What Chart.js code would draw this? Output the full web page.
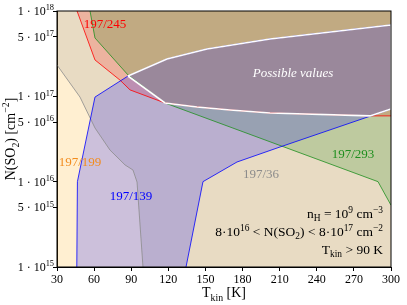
<!DOCTYPE html>
<html>
<head>
<meta charset="utf-8">
<script src="https://cdn.jsdelivr.net/npm/chart.js@4"></script>
<style>
  body { margin: 0; background: #fff; }
  canvas { display: block; }
</style>
</head>
<body>
<canvas id="chart" width="407" height="305"></canvas>
<script>
  // ejes
  const tempTicks = [30, 60, 90, 120, 150, 180, 210, 240, 270, 300];
  const nTicks = [1e15, 5e15, 1e16, 5e16, 1e17, 5e17, 1e18];

  // limite 197/36 (gris)
  const grayT = [30, 48.6, 60.7, 72.8, 85, 91.4, 94.7, 99.5];
  const grayN = [2.33e17, 9.8e16, 4.26e16, 2.35e16, 1.57e16, 1.37e16, 9.9e15, 1e15];

  // limite 197/245 (rojo)
  const redT = [46.2, 60.7, 80.9, 89, 117.3, 143.2, 169.9, 202.2, 283, 300];
  const redN = [1e18, 2.67e17, 1.55e17, 1.19e17, 8.36e16, 7.5e16, 6.92e16, 6.38e16, 5.9e16, 5.9e16];

  // limite 197/293 (verde)
  const greenT = [56.7, 60.7, 87.4, 117.3, 289.5, 300];
  const greenN = [1e18, 4.83e17, 1.78e17, 8.36e16, 1e16, 5.3e15];

  // banda 197/139 (azul)
  const blueUpT = [46.0, 46.5, 51.8, 60.7, 87.4, 118.9, 151.3, 202.2, 300];
  const blueUpN = [1e15, 1e16, 2.35e16, 9.8e16, 1.73e17, 2.74e17, 3.59e17, 4.7e17, 6.86e17];
  const blueLowT = [300, 210.3, 175.5, 148, 134.3];
  const blueLowN = [7.1e16, 2.55e16, 1.7e16, 1e16, 1e15];

  // valores posibles
  const possT = [87.4, 118.9, 151.3, 202.2, 300, 300, 283, 202.2, 169.9, 143.2, 117.3, 87.4];
  const possN = [1.73e17, 2.74e17, 3.59e17, 4.7e17, 6.86e17, 7.1e16, 5.9e16, 6.38e16, 6.92e16, 7.5e16, 8.36e16, 1.73e17];

  const serif = "'Liberation Serif', 'Times New Roman', 'DejaVu Serif', serif";

  const pts = (xs, ys) => xs.map((x, i) => ({ x: x, y: ys[i] }));
  const poly = list => list.concat([list[0]]);

  function area(data, color) {
    return { data: data, showLine: true, fill: 'shape', backgroundColor: color,
             borderWidth: 0, pointRadius: 0, tension: 0 };
  }
  function edge(data, color, width) {
    return { data: data, showLine: true, fill: false, borderColor: color,
             borderWidth: width, pointRadius: 0, tension: 0 };
  }

  const datasets = [
    area(poly([{ x: 30, y: 1e15 }, { x: 300, y: 1e15 }, { x: 300, y: 1e18 }, { x: 30, y: 1e18 }]), 'rgba(255,165,0,0.18)'),
    area(poly([{ x: 30, y: 1e18 }, { x: 300, y: 1e18 }, { x: 300, y: 1e15 }].concat(pts(grayT, grayN).reverse())), 'rgba(128,128,128,0.18)'),
    area(poly(pts(redT, redN).concat([{ x: 300, y: 1e18 }])), 'rgba(255,0,0,0.18)'),
    area(poly(pts(greenT, greenN).concat([{ x: 300, y: 1e18 }])), 'rgba(0,128,0,0.18)'),
    area(poly(pts(blueUpT, blueUpN).concat(pts(blueLowT, blueLowN))), 'rgba(0,0,255,0.2)'),
    edge(pts(grayT, grayN), '#8c8c8c', 0.8),
    edge(pts(redT, redN), '#ff0000', 0.8),
    edge(pts(greenT, greenN), '#1f8f1f', 0.8),
    edge(pts(blueUpT, blueUpN), '#0000ff', 0.8),
    edge(pts(blueLowT, blueLowN), '#0000ff', 0.8),
    edge(pts(possT, possN), '#ffffff', 1.6)
  ];
  // el primero se dibuja debajo
  datasets.forEach((d, i) => { d.order = datasets.length - i; });

  function richText(ctx, parts, x, y, size, color, align, italic) {
    const st = italic ? 'italic ' : '';
    const small = size * 0.7;
    const w = parts.map(p => {
      ctx.font = st + (p[1] ? small : size) + 'px ' + serif;
      return ctx.measureText(p[0]).width;
    });
    const total = w.reduce((a, b) => a + b, 0);
    let cx = align === 'right' ? x - total : align === 'center' ? x - total / 2 : x;
    ctx.fillStyle = color;
    ctx.textAlign = 'left';
    ctx.textBaseline = 'alphabetic';
    parts.forEach((p, i) => {
      ctx.font = st + (p[1] ? small : size) + 'px ' + serif;
      const dy = p[1] === 1 ? -size * 0.4 : p[1] === -1 ? size * 0.25 : 0;
      ctx.fillText(p[0], cx, y + dy);
      cx += w[i];
    });
  }

  const textPlugin = {
    id: 'textos',
    afterDraw(chart) {
      const ctx = chart.ctx;
      const a = chart.chartArea;
      const ys = chart.scales.y;
      ctx.save();
      ctx.strokeStyle = '#000';
      ctx.lineWidth = 1;
      ctx.strokeRect(a.left, a.top, a.right - a.left, a.bottom - a.top);

      nTicks.forEach(v => {
        const e = Math.floor(Math.log10(v) + 1e-9);
        const m = Math.round(v / Math.pow(10, e));
        richText(ctx, [[m + ' \u00b7 10', 0], [String(e), 1]], 54, ys.getPixelForValue(v) + 4, 12, '#000', 'right');
      });

      richText(ctx, [['T', 0], ['kin', -1], [' [K]', 0]], (a.left + a.right) / 2, 297, 14, '#000', 'center');
      ctx.save();
      ctx.translate(15, (a.top + a.bottom) / 2);
      ctx.rotate(-Math.PI / 2);
      richText(ctx, [['N(SO', 0], ['2', -1], [') [cm', 0], ['\u22122', 1], [']', 0]], 0, 0, 14, '#000', 'center');
      ctx.restore();

      richText(ctx, [['197/245', 0]], 105, 28, 13, '#ff0000', 'center');
      richText(ctx, [['197/199', 0]], 80, 166, 13, '#f28c1e', 'center');
      richText(ctx, [['197/139', 0]], 131, 200, 13, '#0000ff', 'center');
      richText(ctx, [['197/36', 0]], 261, 178, 13, '#8c8c8c', 'center');
      richText(ctx, [['197/293', 0]], 353, 158, 13, '#1f8f1f', 'center');
      richText(ctx, [['Possible values', 0]], 293, 77, 13, '#ffffff', 'center', true);

      richText(ctx, [['n', 0], ['H', -1], [' = 10', 0], ['9', 1], [' cm', 0], ['\u22123', 1]], 383, 218, 13.5, '#000', 'right');
      richText(ctx, [['8\u00b710', 0], ['16', 1], [' < N(SO', 0], ['2', -1], [') < 8\u00b710', 0], ['17', 1], [' cm', 0], ['\u22122', 1]], 383, 236, 13.5, '#000', 'right');
      richText(ctx, [['T', 0], ['kin', -1], [' > 90 K', 0]], 383, 254, 13.5, '#000', 'right');
      ctx.restore();
    }
  };

  new Chart(document.getElementById('chart').getContext('2d'), {
    type: 'scatter',
    data: { datasets: datasets },
    options: {
      responsive: false,
      animation: false,
      layout: { padding: { left: 0, right: 16, top: 11, bottom: 0 } },
      plugins: { legend: { display: false }, tooltip: { enabled: false } },
      scales: {
        x: {
          type: 'linear', min: 30, max: 300,
          afterBuildTicks: s => { s.ticks = tempTicks.map(v => ({ value: v })); },
          afterFit: s => { s.height = 38; },
          ticks: { color: '#000', font: { family: serif, size: 12 }, padding: 2, maxRotation: 0 },
          grid: { drawOnChartArea: false, tickLength: 4, color: '#000' },
          border: { color: '#000' }
        },
        y: {
          type: 'logarithmic', min: 1e15, max: 1e18,
          afterBuildTicks: s => { s.ticks = nTicks.map(v => ({ value: v })); },
          afterFit: s => { s.width = 57; },
          ticks: { display: false },
          grid: { drawOnChartArea: false, tickLength: 4, color: '#000' },
          border: { color: '#000' }
        }
      }
    },
    plugins: [textPlugin]
  });
</script>
</body>
</html>
